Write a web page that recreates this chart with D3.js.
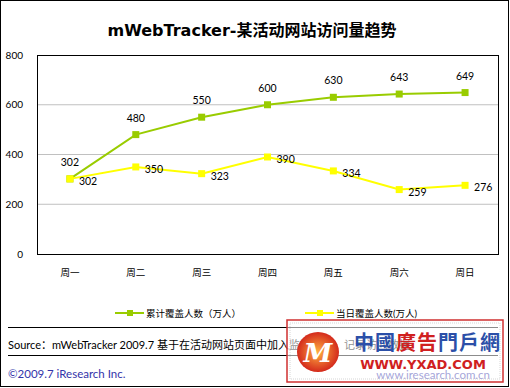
<!DOCTYPE html>
<html><head><meta charset="utf-8">
<script src="https://cdn.jsdelivr.net/npm/d3@7"></script>
<style>body{margin:0;background:#fff}svg{display:block}</style>
</head><body>
<svg id="c" width="510" height="388"></svg>
<script>
const categories = ["周一","周二","周三","周四","周五","周六","周日"];
const cumulative = [302,480,550,600,630,643,649];
const daily = [302,350,323,390,334,259,276];
const yTicks = [0,200,400,600,800];
const seriesNames = ["累计覆盖人数（万人）","当日覆盖人数(万人)"];

const svg = d3.select("#c");
const font = "Lato, 'Noto Sans CJK SC', sans-serif";
const m = {l:37, t:55, r:498, b:254};
svg.append("rect").attr("x",0.5).attr("y",0.5).attr("width",508).attr("height",386)
  .attr("fill","#fff").attr("stroke","#000");
svg.append("text").attr("x",252).attr("y",36).attr("text-anchor","middle")
  .attr("font-family","'DejaVu Sans', 'Noto Sans CJK SC', sans-serif").attr("font-size",16).attr("font-weight","bold").attr("fill","#000")
  .text("mWebTracker-某活动网站访问量趋势");

const x = d3.scaleBand().domain(categories).range([m.l,m.r]);
const y = d3.scaleLinear().domain([0,800]).range([m.b,m.t]);
const cx = d => x(d)+x.bandwidth()/2;

// grid
svg.append("g").selectAll("line").data(yTicks.filter(v=>v>0&&v<800)).join("line")
  .attr("x1",m.l).attr("x2",m.r).attr("y1",d=>y(d)).attr("y2",d=>y(d))
  .attr("stroke","#c0c0c0").attr("stroke-width",1);
svg.append("rect").attr("x",m.l+0.5).attr("y",m.t+0.5).attr("width",m.r-m.l).attr("height",m.b-m.t)
  .attr("fill","none").attr("stroke","#000");

// y axis labels
const ya = svg.append("g").attr("transform",`translate(${m.l-14},0)`)
  .call(d3.axisLeft(y).tickValues(yTicks).tickSize(0).tickPadding(0));
ya.select(".domain").remove();
ya.selectAll("text").attr("font-family",font).attr("font-size",10).attr("fill","#000");

const xa = svg.append("g").attr("transform",`translate(0,${m.b+15})`)
  .call(d3.axisBottom(x).tickSize(0).tickPadding(0));
xa.select(".domain").remove();
xa.selectAll("text").attr("font-family",font).attr("font-size",9.5).attr("fill","#000");

const green = "#99cc00", yellow = "#ffff00";
function series(vals,color,labelPos){
  const line = d3.line().x((d,i)=>cx(categories[i])).y(d=>y(d));
  svg.append("path").datum(vals).attr("d",line).attr("fill","none").attr("stroke",color).attr("stroke-width",2);
  svg.append("g").selectAll("rect").data(vals).join("rect")
    .attr("x",(d,i)=>cx(categories[i])-3.5).attr("y",d=>y(d)-3.5).attr("width",7).attr("height",7).attr("fill",color);
  svg.append("g").selectAll("text").data(vals).join("text")
    .attr("font-family",font).attr("font-size",10.5).attr("fill","#000")
    .attr("x",(d,i)=>cx(categories[i])+labelPos.dx)
    .attr("y",d=>y(d)+labelPos.dy)
    .attr("text-anchor",labelPos.anchor)
    .text(d=>d);
}
series(cumulative,green,{dx:0,dy:-13,anchor:"middle"});
series(daily,yellow,{dx:9,dy:6,anchor:"start"});

// legend
const lg = [{c:green,x:115,name:seriesNames[0]},{c:yellow,x:305,name:seriesNames[1]}];
lg.forEach(d=>{
  svg.append("line").attr("x1",d.x).attr("x2",d.x+29).attr("y1",313).attr("y2",313).attr("stroke",d.c).attr("stroke-width",2);
  svg.append("rect").attr("x",d.x+12).attr("y",310).attr("width",6).attr("height",6).attr("fill",d.c);
  svg.append("text").attr("x",d.x+31).attr("y",317).attr("font-family",font).attr("font-size",9.5).attr("fill","#000").text(d.name);
});

svg.append("line").attr("x1",8).attr("x2",498).attr("y1",327.5).attr("y2",327.5).attr("stroke","#000");
svg.append("text").attr("x",8).attr("y",349).attr("font-family",font).attr("font-size",11).attr("fill","#000")
  .text("Source：mWebTracker 2009.7 基于在活动网站页面中加入监测代码，记录访问数据");
svg.append("line").attr("x1",8).attr("x2",498).attr("y1",355.5).attr("y2",355.5).attr("stroke","#000");
svg.append("text").attr("x",8).attr("y",378).attr("font-family",font).attr("font-size",11.5).attr("fill","#3333aa")
  .text("©2009.7 iResearch Inc.");
svg.append("text").attr("x",490).attr("y",379).attr("text-anchor","end").attr("font-family",font).attr("font-size",11.5).attr("fill","#3333aa")
  .text("www.iresearch.com.cn");

// watermark overlay (semi-transparent, as in the reference)
const wm = svg.append("g");
wm.append("rect").attr("x",287).attr("y",320).attr("width",216).attr("height",62).attr("fill","#fff").attr("fill-opacity",0.55).attr("stroke","#d03030").attr("stroke-width",1.5);
wm.append("rect").attr("x",290).attr("y",323).attr("width",210).attr("height",56).attr("fill","none").attr("stroke","#bbb").attr("stroke-width",0.6).attr("stroke-dasharray","1,1");
const lgd = svg.append("defs").append("radialGradient").attr("id","lg");
lgd.append("stop").attr("offset","0%").attr("stop-color","#ffb040");
lgd.append("stop").attr("offset","100%").attr("stop-color","#d42a1c");
wm.append("ellipse").attr("cx",318).attr("cy",352).attr("rx",21).attr("ry",20).attr("fill","url(#lg)");
wm.append("text").attr("x",318).attr("y",362).attr("text-anchor","middle").attr("font-family","DejaVu Serif").attr("font-style","italic").attr("font-weight","bold").attr("font-size",26).attr("fill","#fff").text("M");
const wmChars = [["中","#2b4fa8"],["國","#2b4fa8"],["廣","#d02020"],["告","#d02020"],["門","#2b4fa8"],["戶","#2b4fa8"],["網","#2b4fa8"]];
wm.append("g").selectAll("text").data(wmChars).join("text")
  .attr("x",(d,i)=>354+i*21+10).attr("y",350).attr("text-anchor","middle")
  .attr("font-family","'Noto Sans CJK TC'").attr("font-weight","bold").attr("font-size",20)
  .attr("fill",d=>d[1]).text(d=>d[0]);
wm.append("text").attr("x",423).attr("y",369).attr("text-anchor","middle").attr("font-family","'DejaVu Sans'").attr("font-weight","bold").attr("font-size",13).attr("fill","#d02020").text("WWW.YXAD.COM");
</script>
</body></html>
